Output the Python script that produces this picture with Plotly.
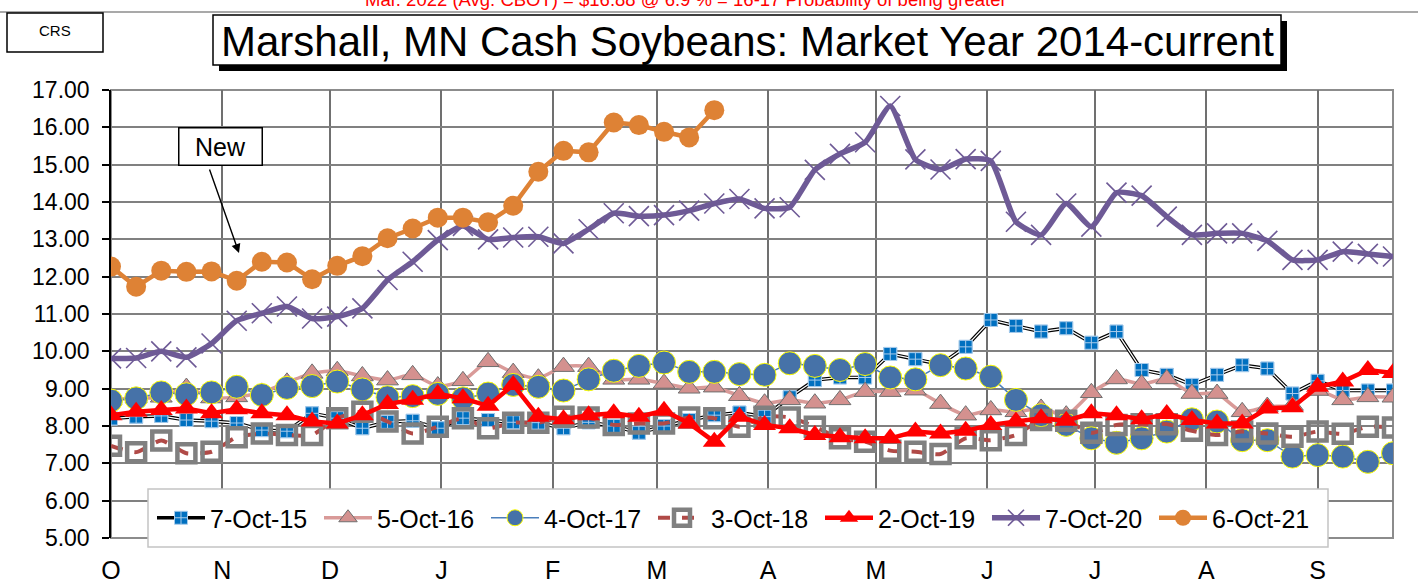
import pandas as pd
import plotly.graph_objects as go

# ---------------- data ----------------
series_names = ["7-Oct-15", "5-Oct-16", "4-Oct-17", "3-Oct-18", "2-Oct-19", "7-Oct-20", "6-Oct-21"]
month_labels = ["O", "N", "D", "J", "F", "M", "A", "M", "J", "J", "A", "S"]

y15 = [8.20, 8.25, 8.27, 8.16, 8.13, 8.08, 7.89, 7.86, 8.34, 8.21, 7.94, 8.11, 8.14, 7.94, 8.21,
       8.16, 8.10, 8.09, 7.94, 8.10, 8.00, 7.82, 8.00, 8.16, 8.29, 8.36, 8.25, 8.77, 9.23, 9.30, 9.30, 9.93, 9.79,
       9.65, 10.12, 10.84, 10.68, 10.53, 10.62, 10.23, 10.53, 9.50, 9.37, 9.10, 9.37, 9.63, 9.54, 8.87, 9.21, 8.95, 8.95, 8.95]
y16 = [8.70, 8.75, 8.77, 9.03, 8.75, 8.78, 8.90, 9.17, 9.41, 9.48, 9.34, 9.23, 9.37, 9.07, 9.21,
       9.72, 9.43, 9.28, 9.59, 9.59, 9.25, 9.25, 9.14, 9.01, 9.04, 8.81, 8.61, 8.70, 8.61, 8.70, 8.92, 8.92, 8.96,
       8.60, 8.29, 8.43, 8.38, 8.47, 8.29, 8.89, 9.26, 9.12, 9.26, 8.87, 8.87, 8.38, 8.52, 8.55, 8.95, 8.70, 8.78, 8.77]
y17 = [8.68, 8.74, 8.90, 8.85, 8.90, 9.05, 8.83, 9.02, 9.07, 9.19, 8.98, 8.77, 8.80, 8.86, 8.74,
       8.87, 9.10, 9.05, 8.95, 9.25, 9.48, 9.61, 9.70, 9.45, 9.45, 9.39, 9.37, 9.68, 9.61, 9.50, 9.66, 9.30, 9.25,
       9.63, 9.54, 9.32, 8.70, 8.29, 8.03, 7.67, 7.55, 7.67, 7.85, 8.18, 8.12, 7.62, 7.62, 7.18, 7.22, 7.18, 7.04, 7.27]
y18 = [7.47, 7.30, 7.61, 7.27, 7.31, 7.70, 7.80, 7.76, 7.76, 8.21, 8.38, 8.12, 7.80, 7.98, 8.21,
       7.94, 8.09, 8.09, 8.25, 8.23, 8.03, 8.07, 8.07, 8.23, 8.21, 7.98, 8.25, 8.23, 7.98, 7.67, 7.58, 7.34, 7.31,
       7.25, 7.67, 7.62, 7.76, 8.16, 8.14, 7.82, 8.03, 8.05, 8.05, 7.87, 7.76, 7.85, 7.80, 7.71, 7.85, 7.79, 7.98, 7.96]
y19 = [8.29, 8.38, 8.43, 8.47, 8.34, 8.45, 8.34, 8.29, 8.12, 8.07, 8.29, 8.59, 8.70, 8.86, 8.74,
       8.54, 9.10, 8.25, 8.18, 8.29, 8.34, 8.25, 8.41, 8.07, 7.58, 8.25, 8.03, 7.94, 7.76, 7.70, 7.67, 7.67, 7.85,
       7.80, 7.87, 8.03, 8.12, 8.21, 8.14, 8.34, 8.29, 8.18, 8.32, 8.16, 8.07, 8.07, 8.47, 8.50, 9.05, 9.19, 9.50, 9.42]
y20 = [9.81, 9.82, 10.00, 9.84, 10.21, 10.82, 11.02, 11.20, 10.88, 10.93, 11.15, 11.91, 12.40, 12.98, 13.36,
       13.00, 13.05, 13.07, 12.89, 13.27, 13.70, 13.62, 13.65, 13.77, 13.96, 14.08, 13.83, 13.86, 14.86, 15.29, 15.60, 16.57, 15.14,
       14.87, 15.15, 15.10, 13.47, 13.12, 13.96, 13.34, 14.25, 14.17, 13.61, 13.12, 13.16, 13.16, 12.96, 12.45, 12.45, 12.67, 12.61, 12.54]
y21 = [12.27, 11.73, 12.16, 12.13, 12.14, 11.89, 12.40, 12.38, 11.93, 12.29, 12.55, 13.03, 13.29, 13.58, 13.58,
       13.46, 13.90, 14.81, 15.37, 15.33, 16.13, 16.06, 15.88, 15.73, 16.46]

# weekly positions within a generic market year (Oct 1 .. Sep)
weeks = pd.date_range("2019-10-01", periods=len(y15), freq="7D")
month_starts = pd.date_range("2019-10-01", "2020-09-01", freq="MS")

FONT = "Liberation Sans, Arial, sans-serif"
W, H = 1418, 583
L, R, T, B = 111, 25, 90, 45


def px_x(p):
    return (p - L) / (W - L - R)


def px_y(p):
    return (H - B - p) / (H - T - B)


fig = go.Figure()

# 7-Oct-15 : double black line with blue square-cross markers
sq15 = dict(symbol="square-cross", size=13, color="#0070C0", line=dict(color="#A9CCEB", width=1))
fig.add_trace(go.Scatter(x=weeks, y=y15, name=series_names[0], mode="lines+markers",
                         line=dict(color="#000000", width=3.6), marker=sq15))
fig.add_trace(go.Scatter(x=weeks, y=y15, mode="lines", showlegend=False, hoverinfo="skip",
                         line=dict(color="#FFFFFF", width=1.3)))
fig.add_trace(go.Scatter(x=weeks, y=y15, mode="markers", showlegend=False, hoverinfo="skip", marker=sq15))

# 5-Oct-16
fig.add_trace(go.Scatter(x=weeks, y=y16, name=series_names[1], mode="lines+markers",
                         line=dict(color="#D99A98", width=3.5, shape="spline", smoothing=0.6),
                         marker=dict(symbol="triangle-up", size=19, color="#D4918F",
                                     line=dict(color="#6F6F6F", width=1))))
# 4-Oct-17
fig.add_trace(go.Scatter(x=weeks, y=y17, name=series_names[2], mode="lines+markers",
                         line=dict(color="#4A7EBB", width=1.5),
                         marker=dict(symbol="circle", size=23, color="#4672A8",
                                     line=dict(color="#FFFF00", width=1))))
# 3-Oct-18
fig.add_trace(go.Scatter(x=weeks, y=y18, name=series_names[3], mode="lines+markers",
                         line=dict(color="#B04A47", width=4, dash="dash", shape="spline", smoothing=0.6),
                         marker=dict(symbol="square", size=18, color="rgba(0,0,0,0)",
                                     line=dict(color="#808080", width=4.5))))
# 2-Oct-19
fig.add_trace(go.Scatter(x=weeks, y=y19, name=series_names[4], mode="lines+markers",
                         line=dict(color="#FF0000", width=4.5),
                         marker=dict(symbol="triangle-up", size=20, color="#FF0000")))
# 7-Oct-20
fig.add_trace(go.Scatter(x=weeks, y=y20, name=series_names[5], mode="lines+markers",
                         line=dict(color="#6E5A96", width=5.5, shape="spline", smoothing=0.5),
                         marker=dict(symbol="x-thin", size=20, color="#6E5A96",
                                     line=dict(color="#6E5A96", width=1.6))))
# 6-Oct-21
fig.add_trace(go.Scatter(x=weeks[:len(y21)], y=y21, name=series_names[6], mode="lines+markers",
                         line=dict(color="#DE8235", width=4.5),
                         marker=dict(symbol="circle", size=20, color="#DE8235")))

shapes = [
    # plot frame
    dict(type="rect", xref="paper", yref="paper", x0=0, x1=1, y0=0, y1=1,
         line=dict(color="#8C8C8C", width=2), layer="below"),
    # legend box (drawn above traces; legend itself sits on top)
    dict(type="rect", xref="paper", yref="paper", x0=px_x(148), x1=px_x(1328), y0=px_y(547), y1=px_y(489),
         line=dict(color="#C4C4C4", width=1.5), fillcolor="#FFFFFF", layer="above"),
    # top separator line
    dict(type="line", xref="paper", yref="paper", x0=px_x(0), x1=px_x(W), y0=px_y(12), y1=px_y(12),
         line=dict(color="#8C8C8C", width=1.5)),
    # CRS box
    dict(type="rect", xref="paper", yref="paper", x0=px_x(7), x1=px_x(103), y0=px_y(13), y1=px_y(52),
         line=dict(color="#000000", width=1.5), fillcolor="#FFFFFF"),
    # title shadow and box
    dict(type="rect", xref="paper", yref="paper", x0=px_x(219), x1=px_x(1287), y0=px_y(21), y1=px_y(71),
         line=dict(width=0), fillcolor="#000000"),
    dict(type="rect", xref="paper", yref="paper", x0=px_x(213), x1=px_x(1281), y0=px_y(15), y1=px_y(65),
         line=dict(color="#000000", width=1.5), fillcolor="#FFFFFF"),
]

annotations = [
    dict(text="Marshall, MN Cash Soybeans: Market Year 2014-current", xref="paper", yref="paper",
         x=px_x(747), y=px_y(41), showarrow=False, font=dict(family=FONT, size=42, color="#000000"),
         xanchor="center", yanchor="middle"),
    dict(text="CRS", xref="paper", yref="paper", x=px_x(55), y=px_y(30), showarrow=False,
         font=dict(family=FONT, size=15, color="#000000"), xanchor="center", yanchor="middle"),
    dict(text="Mar. 2022 (Avg. CBOT) = $16.88 @ 6.9 % = 16-17 Probability of being greater",
         xref="paper", yref="paper", x=px_x(686), y=px_y(0), showarrow=False,
         font=dict(family=FONT, size=18.5, color="#FF0000"), xanchor="center", yanchor="middle"),
    dict(text="New", xref="paper", yref="paper", x=px_x(220), y=px_y(146), showarrow=False,
         font=dict(family=FONT, size=25, color="#000000"), bgcolor="#FFFFFF",
         bordercolor="#000000", borderwidth=1.5, width=80, height=34, xanchor="center", yanchor="middle"),
    dict(text="", xref="paper", yref="paper", x=px_x(239), y=px_y(253), ax=-30, ay=-85,
         showarrow=True, arrowhead=2, arrowsize=1.3, arrowwidth=1.4, arrowcolor="#000000"),
]

fig.update_layout(
    width=W, height=H,
    margin=dict(l=L, r=R, t=T, b=B, autoexpand=False),
    paper_bgcolor="#FFFFFF", plot_bgcolor="#FFFFFF",
    font=dict(family=FONT, color="#000000"),
    shapes=shapes, annotations=annotations,
    legend=dict(orientation="h", x=px_x(152), y=px_y(518), xanchor="left", yanchor="middle",
                bgcolor="rgba(0,0,0,0)", borderwidth=0,
                font=dict(family=FONT, size=25, color="#000000"),
                entrywidth=104, entrywidthmode="pixels", itemwidth=48, traceorder="normal"),
    showlegend=True,
)

fig.update_xaxes(
    range=[weeks[0], weeks[-1]], tickmode="array", tickvals=month_starts, ticktext=month_labels,
    showgrid=True, gridcolor="#707070", gridwidth=1.5, zeroline=False, showline=False,
    ticks="", tickfont=dict(family=FONT, size=25, color="#000000"), ticklabelstandoff=15,
    automargin=False,
)
fig.update_yaxes(
    range=[5, 17], dtick=1, tick0=5, tickformat=".2f", showgrid=True, gridcolor="#808080", gridwidth=2,
    zeroline=False, showline=True, linecolor="#000000", linewidth=1.5, ticks="outside", ticklen=7,
    tickcolor="#000000", tickwidth=1.5, tickfont=dict(family=FONT, size=23, color="#000000"),
    ticklabelstandoff=8, automargin=False,
)

fig.write_html("out.html", config={"displayModeBar": False},
               post_script="document.body.style.margin='0px';")
